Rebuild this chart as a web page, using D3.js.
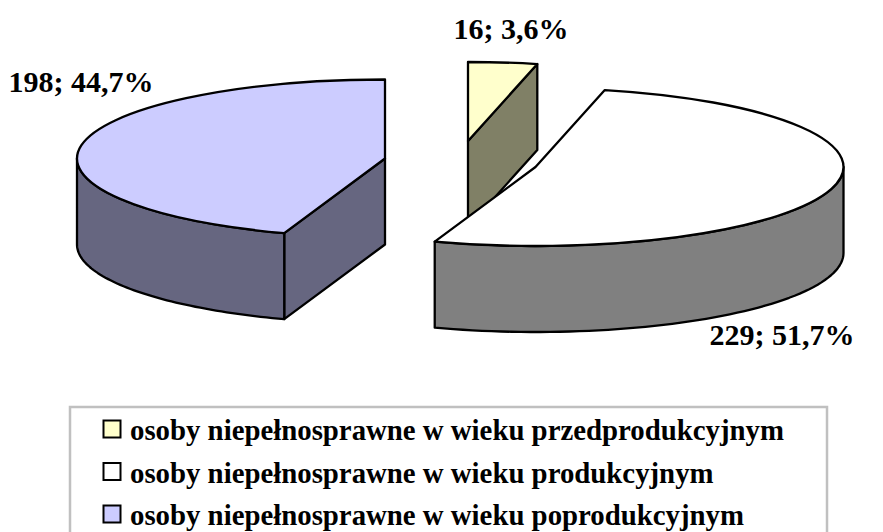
<!DOCTYPE html>
<html><head><meta charset="utf-8">
<script src="https://cdn.jsdelivr.net/npm/d3@7"></script>
<style>html,body{margin:0;padding:0;background:#fff;overflow:hidden}svg{display:block}
text{font-family:"Liberation Serif",serif;font-weight:bold;fill:#000}</style></head>
<body><svg id="c" width="883" height="532"></svg>
<script>
const categories=["osoby niepełnosprawne w wieku przedprodukcyjnym","osoby niepełnosprawne w wieku produkcyjnym","osoby niepełnosprawne w wieku poprodukcyjnym"];
const values=[16,229,198];
const percents=["3,6%","51,7%","44,7%"];
const topColors=["#ffffcc","#ffffff","#ccccff"];
const wallColors=["#808066","#808080","#666680"];
const centers=[[468,141],[535.5,167],[385,158.5]];
const labelAnchors=[[511,39],[782,345],[81,92]];

const svg=d3.select("#c");
const rx=308, ry=79, depth=86;
const arcs=d3.pie().sort(null).value(d=>d)(values);
const arcGen=d3.arc().innerRadius(0).outerRadius(rx);
const pt=(i,a,dz=0)=>[centers[i][0]+rx*Math.sin(a),centers[i][1]-ry*Math.cos(a)+dz];
const line=d3.line();
const stroke={stroke:"#000","stroke-width":2.3,"stroke-linejoin":"round"};
function st(s){Object.entries(stroke).forEach(([k,v])=>s.attr(k,v));return s;}
function outerWall(i,a0,a1){
  const n=60,upper=[],lower=[];
  for(let k=0;k<=n;k++){const a=a0+(a1-a0)*k/n;upper.push(pt(i,a));lower.push(pt(i,a,depth));}
  return line(upper.concat(lower.reverse()))+"Z";
}
function radialWall(i,a){
  const c=centers[i];
  return line([c,pt(i,a),pt(i,a,depth),[c[0],c[1]+depth]])+"Z";
}
const PI=Math.PI;
function drawTop(i){
  st(svg.append("path")
    .attr("d",arcGen(arcs[i]))
    .attr("transform",`translate(${centers[i]}) scale(1,${ry/rx})`)
    .attr("vector-effect","non-scaling-stroke")
    .attr("fill",topColors[i]));
}
// yellow slice: wall behind everything
st(svg.append("path").attr("d",radialWall(0,arcs[0].endAngle)).attr("fill",wallColors[0]));
drawTop(0);
// purple slice
st(svg.append("path").attr("d",radialWall(2,arcs[2].startAngle)).attr("fill",wallColors[2]));
st(svg.append("path").attr("d",outerWall(2,arcs[2].startAngle,1.5*PI)).attr("fill",wallColors[2]));
drawTop(2);
// white slice
st(svg.append("path").attr("d",outerWall(1,PI/2,arcs[1].endAngle)).attr("fill",wallColors[1]));
drawTop(1);

// labels
values.forEach((v,i)=>{
  svg.append("text").attr("x",labelAnchors[i][0]).attr("y",labelAnchors[i][1])
    .attr("text-anchor","middle").attr("font-size",30).text(`${v}; ${percents[i]}`);
});

// legend
svg.append("rect").attr("x",70).attr("y",407).attr("width",757).attr("height",140)
  .attr("fill","#fff").attr("stroke","#c0c0c0").attr("stroke-width",2.5);
const ly=d3.scalePoint().domain(d3.range(categories.length)).range([440,525]);
categories.forEach((c,i)=>{
  svg.append("rect").attr("x",103.5).attr("y",ly(i)-19.5).attr("width",17).attr("height",17)
    .attr("fill",topColors[i]).attr("stroke","#000").attr("stroke-width",2);
  svg.append("text").attr("x",130).attr("y",ly(i)).attr("font-size",28.8).text(c);
});
</script></body></html>
